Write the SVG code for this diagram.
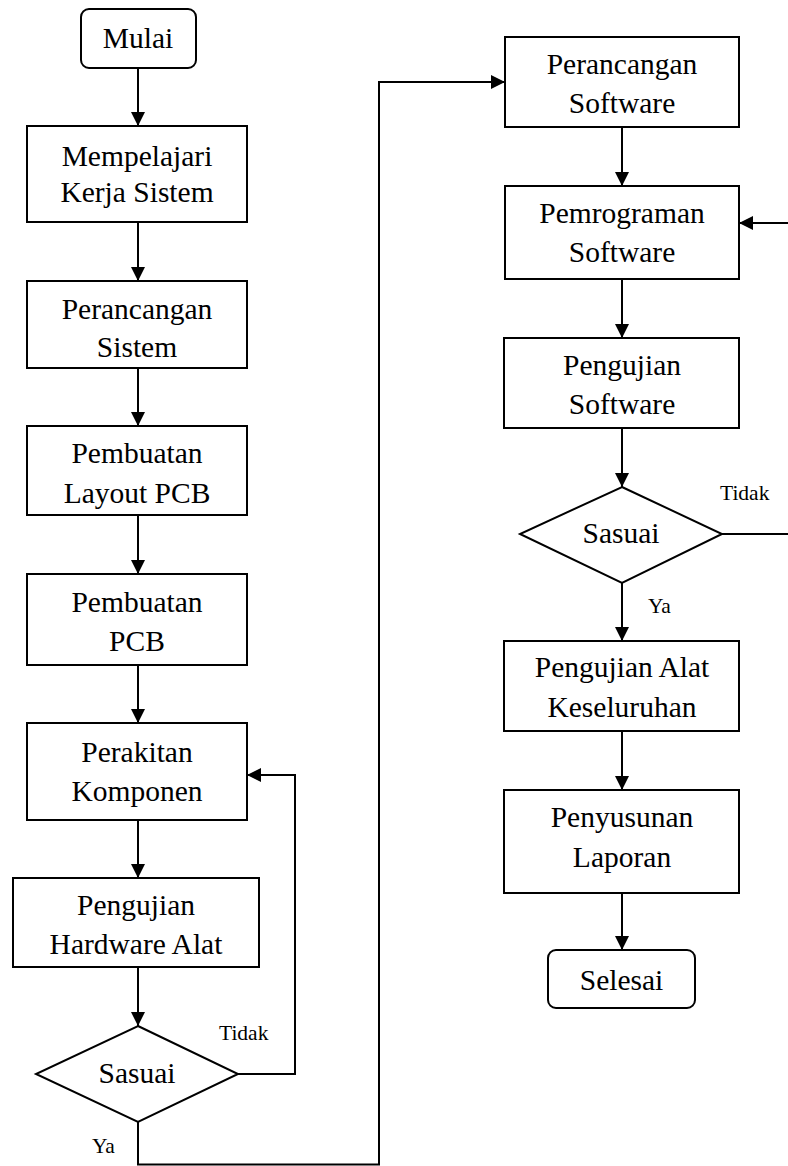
<svg xmlns="http://www.w3.org/2000/svg" width="788" height="1166" viewBox="0 0 788 1166">
<defs>
<marker id="arr" markerUnits="userSpaceOnUse" markerWidth="14" markerHeight="14" refX="14" refY="7" orient="auto">
<path d="M0,0 L14,7 L0,14 z" fill="#000"/>
</marker>
<style>
.box{fill:#fff;stroke:#000;stroke-width:2}
.t{font-family:"Liberation Serif","Times New Roman",serif;font-size:29.5px;fill:#000;text-anchor:middle}
.lbl{font-family:"Liberation Serif","Times New Roman",serif;font-size:21.5px;fill:#000}
.c{fill:none;stroke:#000;stroke-width:2}
</style>
</defs>
<rect width="788" height="1166" fill="#fff"/>
<g id="connectors">
<path class="c" d="M138,68 V126" marker-end="url(#arr)"/>
<path class="c" d="M138,222 V281" marker-end="url(#arr)"/>
<path class="c" d="M138,368 V426" marker-end="url(#arr)"/>
<path class="c" d="M138,515 V574" marker-end="url(#arr)"/>
<path class="c" d="M138,665 V723" marker-end="url(#arr)"/>
<path class="c" d="M138,820 V878" marker-end="url(#arr)"/>
<path class="c" d="M138,967 V1026" marker-end="url(#arr)"/>
<path class="c" d="M238,1074 H295 V775 H247" marker-end="url(#arr)"/>
<path class="c" d="M138,1122 V1164.5 H379 V82 H505" marker-end="url(#arr)"/>
<path class="c" d="M622,127 V186" marker-end="url(#arr)"/>
<path class="c" d="M622,279 V338" marker-end="url(#arr)"/>
<path class="c" d="M622,428 V487" marker-end="url(#arr)"/>
<path class="c" d="M722,534 H790 V223 H739" marker-end="url(#arr)"/>
<path class="c" d="M622,583 V641" marker-end="url(#arr)"/>
<path class="c" d="M622,731 V790" marker-end="url(#arr)"/>
<path class="c" d="M622,893 V950" marker-end="url(#arr)"/>
<text class="lbl" x="219" y="1040">Tidak</text>
<text class="lbl" x="92" y="1153">Ya</text>
<text class="lbl" x="720" y="500">Tidak</text>
<text class="lbl" x="648" y="613">Ya</text>
</g>
<g id="mulai"><rect class="box" x="81" y="9" width="115" height="59" rx="8"/><text class="t" x="138" y="48">Mulai</text></g>
<g id="mempelajari"><rect class="box" x="27" y="126" width="220" height="96"/><text class="t" x="137" y="166">Mempelajari</text><text class="t" x="137" y="202">Kerja Sistem</text></g>
<g id="perancangan-sistem"><rect class="box" x="27" y="281" width="220" height="87"/><text class="t" x="137" y="319">Perancangan</text><text class="t" x="137" y="357">Sistem</text></g>
<g id="layout-pcb"><rect class="box" x="27" y="426" width="220" height="89"/><text class="t" x="137" y="463">Pembuatan</text><text class="t" x="137" y="503">Layout PCB</text></g>
<g id="pembuatan-pcb"><rect class="box" x="27" y="574" width="220" height="91"/><text class="t" x="137" y="612">Pembuatan</text><text class="t" x="137" y="651">PCB</text></g>
<g id="perakitan"><rect class="box" x="27" y="723" width="220" height="97"/><text class="t" x="137" y="762">Perakitan</text><text class="t" x="137" y="801">Komponen</text></g>
<g id="pengujian-hardware"><rect class="box" x="13" y="878" width="246" height="89"/><text class="t" x="136" y="915">Pengujian</text><text class="t" x="136" y="954">Hardware Alat</text></g>
<g id="sasuai-1"><polygon class="box" points="138,1026 238,1074 138,1122 36,1074"/><text class="t" x="137" y="1083">Sasuai</text></g>
<g id="perancangan-software"><rect class="box" x="505" y="37" width="234" height="90"/><text class="t" x="622" y="74">Perancangan</text><text class="t" x="622" y="113">Software</text></g>
<g id="pemrograman"><rect class="box" x="505" y="186" width="234" height="93"/><text class="t" x="622" y="223">Pemrograman</text><text class="t" x="622" y="262">Software</text></g>
<g id="pengujian-software"><rect class="box" x="504" y="338" width="235" height="90"/><text class="t" x="622" y="375">Pengujian</text><text class="t" x="622" y="414">Software</text></g>
<g id="sasuai-2"><polygon class="box" points="622,487 722,534 622,583 520,534"/><text class="t" x="621" y="543">Sasuai</text></g>
<g id="pengujian-alat"><rect class="box" x="504" y="641" width="235" height="90"/><text class="t" x="622" y="677">Pengujian Alat</text><text class="t" x="622" y="717">Keseluruhan</text></g>
<g id="penyusunan"><rect class="box" x="504" y="790" width="235" height="103"/><text class="t" x="622" y="827">Penyusunan</text><text class="t" x="622" y="867">Laporan</text></g>
<g id="selesai"><rect class="box" x="548" y="950" width="147" height="58" rx="8"/><text class="t" x="621.5" y="990">Selesai</text></g>
</svg>
